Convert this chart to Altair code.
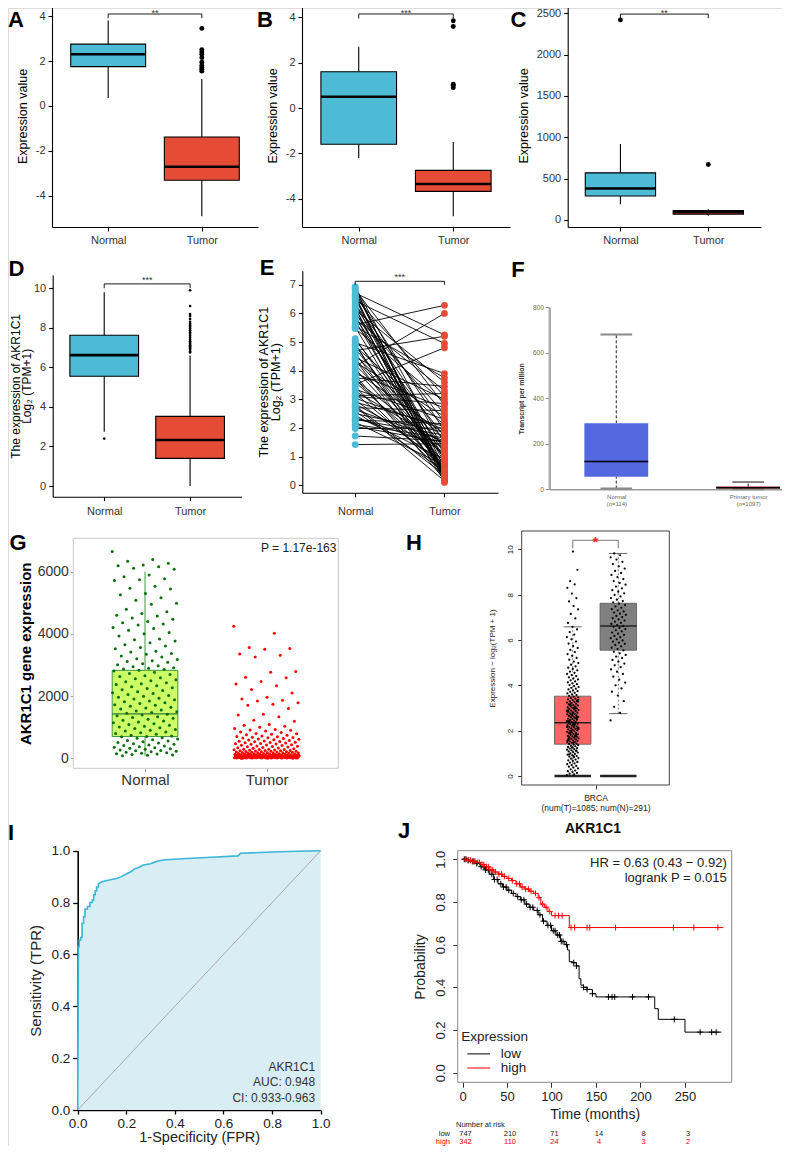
import altair as alt
import numpy as np
import pandas as pd

W, H = 774, 1138
FONT = "Liberation Sans"
BLUE, RED = "#4DBBD5", "#E64B35"

# ------------------------------------------------------------------ data
groups = ["Normal", "Tumor"]

# A
A_q1 = [1.75, -3.3]
A_med = [2.3, -2.7]
A_q3 = [2.75, -1.38]
A_lo = [0.35, -4.9]
A_hi = [3.8, 1.2]
A_out_normal = []
A_out_tumor = [1.55, 1.62, 1.7, 1.8, 1.95, 2.15, 2.3, 2.4, 2.5, 3.45]
A_bracket = [4.09, 3.9, 4.02]
A_sig = "**"

# B
B_q1 = [-1.6, -3.68]
B_med = [0.5, -3.35]
B_q3 = [1.6, -2.75]
B_lo = [-2.2, -4.78]
B_hi = [2.7, -1.5]
B_out_normal = []
B_out_tumor = [0.9, 1.0, 1.05, 3.6, 3.85]
B_bracket = [4.15, 3.95, 4.08]
B_sig = "***"

# C
C_q1 = [290, 70]
C_med = [380, 95]
C_q3 = [570, 115]
C_lo = [190, 50]
C_hi = [920, 130]
C_out_normal = [2420]
C_out_tumor = [670]
C_bracket = [2490, 2440, 2472]
C_sig = "**"

# D
D_q1 = [5.55, 1.4]
D_med = [6.62, 2.33]
D_q3 = [7.62, 3.52]
D_lo = [2.75, 0.0]
D_hi = [9.8, 6.6]
D_out_normal = [2.4]
D_out_tumor = [6.75, 6.8, 6.88, 6.95, 7.0, 7.06, 7.12, 7.18, 7.25, 7.32, 7.4, 7.5, 7.6, 7.7,
               7.78, 7.88, 7.97, 8.05, 8.12, 8.2, 8.3, 8.45, 8.6, 8.7, 9.1, 9.9]
D_bracket = [10.22, 10.0, 10.26]
D_sig = "***"

# E (paired samples)
E_normal = [6.93, 6.88, 6.82, 6.78, 6.71, 6.66, 6.62, 6.55, 6.49, 6.44, 6.37, 6.31, 6.26, 6.18,
            6.12, 6.05, 5.98, 5.92, 5.87, 5.8, 5.74, 5.66, 5.6, 5.52, 5.47, 5.12, 5.06, 4.98,
            4.92, 4.85, 4.77, 4.7, 4.61, 4.53, 4.46, 4.38, 4.3, 4.21, 4.15, 4.06, 3.98, 3.9,
            3.84, 3.75, 3.69, 3.6, 3.52, 3.43, 3.35, 3.28, 3.2, 3.13, 3.04, 2.97, 2.9, 2.84,
            2.78, 2.71, 2.64, 2.58, 2.5, 2.43, 2.36, 2.28, 2.2, 2.12, 2.05, 1.98, 1.72, 1.42,
            6.58, 6.2, 5.55, 4.9, 4.4, 3.7, 3.1, 2.75, 2.3, 6.9]
E_tumor = [1.2, 0.35, 2.8, 0.6, 5.25, 1.9, 0.25, 3.1, 0.9, 4.95, 0.45, 2.2, 1.5, 0.3, 3.6, 0.8,
           2.5, 0.2, 1.1, 3.3, 0.55, 1.7, 6.28, 0.4, 2.9, 0.7, 1.3, 3.9, 0.15, 2.1, 0.95, 5.2,
           0.5, 1.6, 3.0, 0.3, 2.4, 1.0, 6.0, 0.65, 1.8, 2.7, 0.2, 3.45, 1.25, 0.85, 4.8, 0.4,
           2.3, 1.45, 0.6, 3.2, 1.95, 0.75, 2.05, 1.15, 0.35, 2.6, 1.55, 0.5, 1.85, 0.9, 1.35,
           2.15, 0.7, 1.65, 1.5, 2.0, 1.55, 1.45, 0.1, 0.25, 3.75, 0.45, 1.05, 0.55, 2.85, 0.15,
           1.75, 0.3]
E_bracket = [7.12, 7.0, 7.16]
E_sig = "***"

# F (UALCAN)
F_groups = ["Normal", "Primary tumor"]
F_q1 = [55, 3]
F_med = [122, 7]
F_q3 = [290, 12]
F_lo = [3, 0]
F_hi = [680, 32]

# G
G_normal = [6650, 6390, 6340, 6270, 6215, 6190, 6160, 6110, 6075, 5895, 5840, 5770, 5745, 5715,
            5530, 5470, 5440, 5300, 5255, 5160, 5085, 4985, 4950, 4790, 4715, 4660, 4600, 4575,
            4510, 4470, 4395, 4360, 4320, 4285, 4205, 4170, 4115, 4045, 4005, 3935, 3840, 3815,
            3770, 3715, 3650, 3615, 3560, 3525, 3440, 3415, 3370, 3345, 3290, 3255, 3205, 3175,
            3140, 3110, 3085, 3040, 3005, 2975, 2945, 2915, 2895, 2870, 2860,
            2835, 2805, 2770, 2730, 2695, 2655, 2630, 2590, 2560, 2525, 2490, 2465, 2430, 2395,
            2370, 2335, 2300, 2270, 2245, 2205, 2180, 2140, 2110, 2085, 2050, 2020, 1995, 1960,
            1935, 1905, 1880, 1845, 1815, 1790, 1760, 1725, 1705, 1675, 1640, 1615, 1585, 1555,
            1525, 1500, 1475, 1445, 1420, 1395, 1365, 1340, 1310, 1285, 1255, 1225, 1200, 1170,
            1140, 1115, 1090, 1060, 1035, 1005, 985, 955, 925, 900, 875, 850, 820, 795, 770,
            745, 720, 705, 690, 665, 645, 620, 600, 575, 555, 530, 510, 490, 470, 450, 430, 415,
            395, 375, 355, 340, 320, 305, 290, 270, 255, 240, 225, 210, 195, 180, 165, 150, 135,
            120, 105, 95, 85]
G_tumor = [4250, 4020, 3560, 3530, 3510, 3350, 3310, 3260, 2790, 2770, 2610, 2590, 2470, 2390,
           2330, 2210, 2100, 1960, 1905, 1870, 1840, 1790, 1740, 1710, 1600, 1420, 1390, 1340,
           1220, 1190, 1090, 1060, 1030, 1000, 960, 930, 910, 900, 880, 850,
           830, 800, 790, 770, 760, 740, 720, 700, 690, 680, 670, 660, 650, 640, 620, 610, 600,
           590, 570, 560, 550, 540, 530, 520, 510, 500, 490, 480, 470, 460, 450, 440, 430, 420,
           410, 400, 390, 380, 370, 360, 350, 340, 330, 320, 310,
           295, 290, 285, 280, 275, 270, 262, 255, 250, 245, 240, 235, 230, 225, 220, 215, 210,
           205, 200, 196, 192, 188, 184, 180, 176, 172, 168, 164, 160, 156, 152, 148, 145, 142,
           139, 136, 133, 130, 127, 124, 121, 118, 115, 112, 110, 107, 104, 101, 99, 96, 94, 91,
           89, 86, 84, 82, 79, 77, 75, 73, 71, 69, 67, 65, 63, 61, 59, 57, 55, 54, 52, 50, 49,
           47, 46, 44, 43, 41, 40, 38, 37, 36, 34, 33, 32, 30, 29, 28, 27, 26, 25, 24, 23, 22,
           21, 20, 19, 18, 17, 16, 15, 14, 13, 12, 11, 10, 9, 8, 7, 6, 5, 4, 60, 80, 100, 120,
           140, 30, 50, 70, 90, 110, 35, 45, 55, 65, 75, 85, 95, 105, 25, 15, 5, 12, 18, 22, 28,
           33, 38, 42, 48, 53, 58, 62]
G_box = dict(q1=700, med=1430, q3=2830, lo=80, hi=6000)
G_p = "P = 1.17e-163"

# H (GEPIA)
H_groups = ["Tumor", "Normal"]
H_q1 = [1.4, 5.55]
H_med = [2.35, 6.62]
H_q3 = [3.52, 7.62]
H_lo = [0.0, 2.75]
H_hi = [6.58, 9.82]
H_tumor = [0.04, 0.07, 0.1, 0.13, 0.17, 0.21, 0.24, 0.29, 0.33, 0.37, 0.41, 0.44, 0.48, 0.52,
           0.55, 0.59, 0.62, 0.66, 0.69, 0.72, 0.76, 0.79, 0.82, 0.85, 0.88, 0.91, 0.94, 0.97,
           1.0, 1.03, 1.05, 1.08, 1.11, 1.13, 1.16, 1.18, 1.21, 1.23, 1.26, 1.28, 1.31, 1.33,
           1.36, 1.38, 1.41, 1.43, 1.46, 1.48, 1.5, 1.52, 1.55, 1.57, 1.59, 1.61, 1.64, 1.66,
           1.68, 1.7, 1.73, 1.75, 1.77, 1.79, 1.81, 1.84, 1.86, 1.88, 1.9, 1.93, 1.95, 1.97,
           1.99, 2.01, 2.04, 2.06, 2.08, 2.1, 2.13, 2.15, 2.17, 2.19, 2.21, 2.24, 2.26, 2.28,
           2.3, 2.33, 2.35, 2.37, 2.39, 2.42, 2.44, 2.46, 2.48, 2.51, 2.53, 2.55, 2.58, 2.6,
           2.62, 2.65, 2.67, 2.69, 2.72, 2.74, 2.76, 2.79, 2.81, 2.84, 2.86, 2.88, 2.91, 2.93,
           2.96, 2.98, 3.01, 3.03, 3.06, 3.08, 3.11, 3.13, 3.16, 3.19, 3.21, 3.24, 3.27, 3.29,
           3.32, 3.35, 3.38, 3.41, 3.44, 3.47, 3.5, 3.53, 3.57, 3.6, 3.64, 3.67, 3.71, 3.74,
           3.78, 3.82, 3.85, 3.89, 3.93, 3.97, 4.01, 4.05, 4.09, 4.13, 4.17, 4.22, 4.26, 4.31,
           4.35, 4.4, 4.45, 4.5, 4.55, 4.6, 4.66, 4.72, 4.78, 4.84, 4.91, 4.98, 5.05, 5.13,
           5.21, 5.3, 5.38, 5.47, 5.56, 5.65, 5.74, 5.84, 5.93, 6.03, 6.13, 6.24, 6.35, 6.47,
           6.58, 6.75, 6.95, 7.15, 7.35, 7.5, 7.7, 7.85, 8.05, 8.3, 8.45, 8.6, 9.1, 9.9,
           1.62, 1.78, 1.92, 2.07, 2.22, 2.36, 2.52, 2.66, 2.83, 2.97, 3.12, 3.28, 1.47, 1.69,
           1.83, 2.0, 2.16, 2.31, 2.45, 2.61, 2.77, 2.9, 3.05, 3.2, 3.36, 0.86, 0.95, 1.12,
           1.25, 1.55, 1.74, 1.89, 2.11, 2.27, 2.41, 2.57, 2.71, 2.87, 3.0, 3.15, 3.31]
H_normal = [2.45, 2.78, 3.05, 3.3, 3.55, 3.72, 3.86, 4.0, 4.12, 4.25, 4.38, 4.5, 4.6, 4.7, 4.8,
            4.88, 4.96, 5.04, 5.12, 5.2, 5.27, 5.34, 5.41, 5.48, 5.54, 5.6, 5.66, 5.72, 5.78,
            5.83, 5.88, 5.93, 5.98, 6.03, 6.08, 6.13, 6.18, 6.23, 6.28, 6.33, 6.38, 6.43, 6.48,
            6.53, 6.58, 6.62, 6.66, 6.71, 6.76, 6.81, 6.86, 6.91, 6.96, 7.01, 7.06, 7.11, 7.16,
            7.21, 7.26, 7.31, 7.36, 7.42, 7.48, 7.54, 7.6, 7.66, 7.72, 7.78, 7.85, 7.92, 7.99,
            8.06, 8.13, 8.2, 8.28, 8.36, 8.44, 8.52, 8.6, 8.69, 8.78, 8.87, 8.96, 9.05, 9.15,
            9.25, 9.35, 9.45, 9.55, 9.65, 9.74, 9.82]
H_bracket = [10.4, 10.05, 10.3]

# I (ROC)
I_fpr = [0, 0.003, 0.006, 0.006, 0.012, 0.012, 0.018, 0.018, 0.024, 0.024, 0.03, 0.03, 0.04,
         0.04, 0.05, 0.05, 0.06, 0.06, 0.066, 0.066, 0.072, 0.072, 0.078, 0.078, 0.085, 0.085,
         0.1, 0.12, 0.135, 0.16, 0.18, 0.2, 0.22, 0.235, 0.25, 0.27, 0.3, 0.33, 0.36, 0.45,
         0.55, 0.66, 0.67, 0.8, 0.9, 1.0]
I_tpr = [0, 0.63, 0.63, 0.655, 0.655, 0.665, 0.665, 0.72, 0.72, 0.745, 0.745, 0.775, 0.775,
         0.785, 0.785, 0.80, 0.80, 0.81, 0.81, 0.83, 0.83, 0.845, 0.845, 0.86, 0.86, 0.872,
         0.88, 0.885, 0.888, 0.893, 0.9, 0.91, 0.92, 0.93, 0.935, 0.945, 0.95, 0.96, 0.965,
         0.97, 0.975, 0.98, 0.99, 0.995, 0.998, 1.0]
I_text = ["AKR1C1", "AUC: 0.948", "CI: 0.933-0.963"]

# J (Kaplan-Meier)
J_low_t = [0, 5, 10, 15, 20, 25, 30, 35, 40, 45, 50, 55, 60, 65, 70, 75, 80, 85, 90, 95, 100,
           105, 110, 115, 118, 120, 124, 128, 131, 133, 136, 140, 146, 150, 216, 220, 250, 291]
J_low_s = [1.0, 0.995, 0.99, 0.98, 0.965, 0.95, 0.93, 0.905, 0.885, 0.87, 0.855, 0.84, 0.825,
           0.81, 0.79, 0.775, 0.76, 0.74, 0.71, 0.69, 0.665, 0.645, 0.615, 0.6, 0.575, 0.52,
           0.515, 0.5, 0.44, 0.41, 0.4, 0.39, 0.37, 0.355, 0.30, 0.25, 0.19, 0.19]
J_high_t = [0, 5, 10, 15, 20, 25, 30, 35, 40, 45, 50, 55, 60, 65, 70, 75, 80, 85, 88, 92, 96,
            100, 120, 293]
J_high_s = [1.0, 0.995, 0.99, 0.985, 0.975, 0.965, 0.95, 0.94, 0.93, 0.92, 0.91, 0.9, 0.885,
            0.87, 0.86, 0.85, 0.84, 0.82, 0.79, 0.775, 0.755, 0.736, 0.68, 0.68]
J_low_cens = [2, 4, 7, 11, 13, 16, 21, 24, 26, 29, 33, 36, 39, 43, 46, 49, 52, 57, 62, 66, 69,
              72, 76, 79, 84, 87, 91, 96, 99, 102, 104, 107, 109, 111, 113, 117, 125, 128, 136,
              140, 146, 164, 168, 171, 191, 209, 238, 267, 280, 285]
J_high_cens = [3, 6, 9, 12, 14, 17, 19, 22, 24, 27, 29, 32, 34, 37, 41, 44, 47, 52, 56, 61, 64,
               67, 71, 74, 77, 82, 86, 90, 94, 98, 104, 108, 112, 122, 126, 140, 143, 172, 237,
               260, 287]
J_hr = ["HR = 0.63 (0.43 \u2212 0.92)", "logrank P = 0.015"]
J_risk_t = [0, 50, 100, 150, 200, 250]
J_risk_low = [747, 210, 71, 14, 8, 3]
J_risk_high = [342, 110, 24, 4, 3, 2]

letters = ["A", "B", "C", "D", "E", "F", "G", "H", "I", "J"]


# ------------------------------------------------------------------ helpers
def sc(domain, a, b):
    return alt.Scale(domain=list(domain), range=[a - 8, b - 8], nice=False, zero=False)


def ax(orient, pos, **kw):
    d = dict(orient=orient, grid=False, labelFlush=False, labelOverlap=False,
             labelFont=FONT, titleFont=FONT, labelColor="#333333", titleColor="#000000",
             domainColor="#000000", tickColor="#000000", titleFontWeight="normal", title=None)
    d["offset"] = (pos - 8 - H) if orient == "bottom" else -(pos - 8)
    d.update(kw)
    return alt.Axis(**d)


NUM = "'' + datum.value"
NT = "datum.value == 1 ? 'Normal' : 'Tumor'"
POS = "datum.g == 'Normal' ? 1 : 2"


def enc(xs, ys, xa, ya):
    return (lambda f: alt.X(f, scale=xs, axis=xa)), (lambda f: alt.Y(f, scale=ys, axis=ya))


def gg_panel(xs, ys, xa, ya, q1, med, q3, lo, hi, outN, outT, bk, sig, osize):
    X, Y = enc(xs, ys, xa, ya)
    st = pd.DataFrame({"g": groups, "q1": q1, "med": med, "q3": q3, "lo": lo, "hi": hi,
                       "fill": [BLUE, RED]})
    base = alt.Chart(st).transform_calculate(pos=POS).transform_calculate(
        x0="datum.pos - 0.4", x1="datum.pos + 0.4")
    wh = base.mark_rule(color="black", strokeWidth=1.1).encode(x=X("pos:Q"), y=Y("lo:Q"), y2="hi:Q")
    bx = base.mark_rect(stroke="black", strokeWidth=1.1).encode(
        x=X("x0:Q"), x2="x1:Q", y=Y("q1:Q"), y2="q3:Q", fill=alt.Fill("fill:N", scale=None))
    md = base.mark_rule(color="black", strokeWidth=2.6).encode(x=X("x0:Q"), x2="x1:Q", y=Y("med:Q"))
    od = pd.DataFrame({"g": ["Normal"] * len(outN) + ["Tumor"] * len(outT), "v": list(outN) + list(outT)})
    ol = alt.Chart(od).transform_calculate(pos=POS).mark_circle(
        size=osize, color="black", opacity=1).encode(x=X("pos:Q"), y=Y("v:Q"))
    b, t, s = bk
    brd = pd.DataFrame({"x": [1, 1, 2], "x2": [2, 1, 2], "y": [b, b, b], "y2": [b, t, t]})
    br = alt.Chart(brd).mark_rule(color="black", strokeWidth=0.9).encode(
        x=X("x:Q"), x2="x2:Q", y=Y("y:Q"), y2="y2:Q")
    tx = alt.Chart(pd.DataFrame({"x": [1.5], "y": [s], "t": [sig]})).mark_text(
        fontSize=9, font=FONT, color="#333333", baseline="alphabetic").encode(
        x=X("x:Q"), y=Y("y:Q"), text="t:N")
    return alt.layer(wh, bx, md, ol, br, tx)


# ------------------------------------------------------------------ A, B, C
def top_axes(px0, yvals, title="Expression value"):
    xa = ax("bottom", 227, values=[1, 2], labelExpr=NT, labelFontSize=11, tickSize=4,
            labelPadding=3, domainWidth=1.1, tickWidth=1.1)
    ya = ax("left", px0, values=yvals, labelExpr=NUM, labelFontSize=11, tickSize=4,
            labelPadding=3, domainWidth=1.1, tickWidth=1.1, title=title, titleFontSize=12.5,
            titlePadding=6)
    return xa, ya


xa, ya = top_axes(52, [-4, -2, 0, 2, 4])
pA = gg_panel(sc([0.4, 2.6], 52, 258), sc([-5.38, 4.49], 227, 5), xa, ya,
              A_q1, A_med, A_q3, A_lo, A_hi, A_out_normal, A_out_tumor, A_bracket, A_sig, 24)
xa, ya = top_axes(302, [-4, -2, 0, 2, 4])
pB = gg_panel(sc([0.4, 2.6], 302, 510), sc([-5.25, 4.59], 227, 4), xa, ya,
              B_q1, B_med, B_q3, B_lo, B_hi, B_out_normal, B_out_tumor, B_bracket, B_sig, 24)
xa, ya = top_axes(567.7, [0, 500, 1000, 1500, 2000, 2500])
pC = gg_panel(sc([0.4, 2.6], 567.7, 761), sc([-85, 2612], 227, 4), xa, ya,
              C_q1, C_med, C_q3, C_lo, C_hi, C_out_normal, C_out_tumor, C_bracket, C_sig, 24)

# ------------------------------------------------------------------ D
TPM_TITLE = ["The expression of AKR1C1", "Log\u2082 (TPM+1)"]
xa = ax("bottom", 496.7, values=[1, 2], labelExpr=NT, labelFontSize=11, tickSize=4,
        labelPadding=5, domainWidth=1.1, tickWidth=1.1)
ya = ax("left", 52.7, values=[0, 2, 4, 6, 8, 10], labelExpr=NUM, labelFontSize=11, tickSize=4,
        labelPadding=3, domainWidth=1.1, tickWidth=1.1, title=TPM_TITLE, titleFontSize=12,
        titlePadding=0, titleLineHeight=11)
pD = gg_panel(sc([0.4, 2.6], 52.7, 241.6), sc([-0.54, 10.67], 496.7, 275), xa, ya,
              D_q1, D_med, D_q3, D_lo, D_hi, D_out_normal, D_out_tumor, D_bracket, D_sig, 7)

# ------------------------------------------------------------------ E
xs_E, ys_E = sc([0.407, 2.6], 302.3, 498), sc([-0.26, 7.49], 492.7, 270.7)
xa = ax("bottom", 492.7, values=[1, 2], labelExpr=NT, labelFontSize=11, tickSize=4,
        labelPadding=9, domainWidth=1.1, tickWidth=1.1)
ya = ax("left", 302.3, values=[0, 1, 2, 3, 4, 5, 6, 7], labelExpr=NUM, labelFontSize=11,
        tickSize=4, labelPadding=3, domainWidth=1.1, tickWidth=1.1, title=TPM_TITLE,
        titleFontSize=12.5, titlePadding=7, titleLineHeight=12)
X, Y = enc(xs_E, ys_E, xa, ya)
n = len(E_normal)
E_long = pd.DataFrame({"id": list(range(n)) * 2, "g": ["Normal"] * n + ["Tumor"] * n,
                       "v": E_normal + E_tumor})
eb = alt.Chart(E_long).transform_calculate(
    pos=POS, fill=f"datum.g == 'Normal' ? '{BLUE}' : '{RED}'")
eL = eb.mark_line(color="black", strokeWidth=0.9).encode(x=X("pos:Q"), y=Y("v:Q"), detail="id:N")
eP = eb.mark_circle(size=46, opacity=1).encode(x=X("pos:Q"), y=Y("v:Q"),
                                               fill=alt.Fill("fill:N", scale=None))
b, t, s = E_bracket
eBr = alt.Chart(pd.DataFrame({"x": [1, 1, 2], "x2": [2, 1, 2], "y": [b, b, b], "y2": [b, t, t]})
                ).mark_rule(color="black", strokeWidth=0.9).encode(x=X("x:Q"), x2="x2:Q",
                                                                    y=Y("y:Q"), y2="y2:Q")
eTx = alt.Chart(pd.DataFrame({"x": [1.5], "y": [s], "t": [E_sig]})).mark_text(
    fontSize=9, font=FONT, color="#333333", baseline="alphabetic").encode(
    x=X("x:Q"), y=Y("y:Q"), text="t:N")
pE = alt.layer(eL, eP, eBr, eTx)

# ------------------------------------------------------------------ F
xa = ax("bottom", 489.3, values=[1, 2],
        labelExpr="datum.value == 1 ? ['Normal', '(n=114)'] : ['Primary tumor', '(n=1097)']",
        ticks=False, labelFontSize=6, labelColor="#666666", domainColor="#999999",
        domainWidth=1.5, labelPadding=4, labelLineHeight=7)
ya = ax("left", 549.3, values=[0, 200, 400, 600, 800], labelExpr=NUM, labelFontSize=6.5,
        labelColor="#666666", tickColor="#888888", tickSize=4, domainColor="#AAAAAA",
        domainWidth=2.5, labelPadding=2, title="Transcript per million", titleFontSize=7,
        titleFontWeight="bold", titlePadding=8, titleColor="#333333")
X, Y = enc(sc([0.492, 2.31], 549.3, 789), sc([0, 800], 489.3, 307.3), xa, ya)
F_df = pd.DataFrame({"g": F_groups, "q1": F_q1, "med": F_med, "q3": F_q3, "lo": F_lo,
                     "hi": F_hi, "fill": ["#5468E0", "#9E1B1B"]})
fb = alt.Chart(F_df).transform_calculate(pos=POS).transform_calculate(
    x0="datum.pos - 0.242", x1="datum.pos + 0.242", c0="datum.pos - 0.12", c1="datum.pos + 0.12")
fW1 = fb.mark_rule(color="#222222", strokeWidth=1, strokeDash=[3, 2]).encode(
    x=X("pos:Q"), y=Y("q3:Q"), y2="hi:Q")
fW2 = fb.mark_rule(color="#222222", strokeWidth=1, strokeDash=[3, 2]).encode(
    x=X("pos:Q"), y=Y("lo:Q"), y2="q1:Q")
fC1 = fb.mark_rule(color="#888888", strokeWidth=2).encode(x=X("c0:Q"), x2="c1:Q", y=Y("hi:Q"))
fC2 = fb.mark_rule(color="#888888", strokeWidth=2).encode(x=X("c0:Q"), x2="c1:Q", y=Y("lo:Q"))
fB = fb.mark_rect().encode(x=X("x0:Q"), x2="x1:Q", y=Y("q1:Q"), y2="q3:Q",
                           fill=alt.Fill("fill:N", scale=None))
fM = fb.mark_rule(color="black", strokeWidth=1.5).encode(x=X("x0:Q"), x2="x1:Q", y=Y("med:Q"))
pF = alt.layer(fW1, fW2, fC1, fC2, fB, fM)

# ------------------------------------------------------------------ G
G_xd, G_yd = [0.41, 2.59], [-321, 7074]
xa = ax("bottom", 768.3, values=[1, 2], labelExpr=NT, labelFontSize=15, labelColor="#333333",
        tickColor="#999999", tickSize=3, domain=False, labelPadding=1)
ya = ax("left", 73.3, values=[0, 2000, 4000, 6000], labelExpr=NUM, labelFontSize=14,
        labelColor="#333333", tickColor="#999999", tickSize=3, domain=False, labelPadding=2,
        title="AKR1C1 gene expression", titleFontSize=15, titleFontWeight="bold", titlePadding=4)
X, Y = enc(sc(G_xd, 73.3, 338.3), sc(G_yd, 768.3, 538.3), xa, ya)
gBorder = alt.Chart(pd.DataFrame({"x": [G_xd[0]], "x2": [G_xd[1]], "y": [G_yd[0]], "y2": [G_yd[1]]})
                    ).mark_rect(fill="white", stroke="#C8C8C8", strokeWidth=1).encode(
    x=X("x:Q"), x2="x2:Q", y=Y("y:Q"), y2="y2:Q")
gst = alt.Chart(pd.DataFrame({"g": ["Normal"], **{k: [v] for k, v in G_box.items()}})
                ).transform_calculate(pos=POS).transform_calculate(
    x0="datum.pos - 0.27", x1="datum.pos + 0.27")
gW = gst.mark_rule(color="#3C9A3C", strokeWidth=1).encode(x=X("pos:Q"), y=Y("lo:Q"), y2="hi:Q")
gB = gst.mark_rect(fill="#CCFF66", stroke="#3C9A3C", strokeWidth=1).encode(
    x=X("x0:Q"), x2="x1:Q", y=Y("q1:Q"), y2="q3:Q")
gM = gst.mark_rule(color="#2E7D2E", strokeWidth=1.3).encode(x=X("x0:Q"), x2="x1:Q", y=Y("med:Q"))
G_pts = pd.DataFrame({"g": ["Normal"] * len(G_normal) + ["Tumor"] * len(G_tumor),
                      "v": G_normal + G_tumor,
                      "i": list(range(len(G_normal))) + list(range(len(G_tumor)))})
gP = alt.Chart(G_pts).transform_calculate(pos=POS).transform_calculate(
    jx="datum.pos + ((datum.i * 0.618034) % 1 - 0.5) * 0.54",
    col="datum.g == 'Normal' ? '#0A6E0A' : '#FF0000'").mark_circle(size=9, opacity=1).encode(
    x=X("jx:Q"), y=Y("v:Q"), fill=alt.Fill("col:N", scale=None))
gT = alt.Chart(pd.DataFrame({"x": [2.575], "y": [6760], "t": [G_p]})).mark_text(
    fontSize=12, font=FONT, align="right", color="#222222").encode(x=X("x:Q"), y=Y("y:Q"), text="t:N")
pG = alt.layer(gBorder, gW, gB, gM, gP, gT)

# ------------------------------------------------------------------ H
H_xd, H_yd = [-0.12, 3.12], [-0.4, 10.81]
HPOS = "datum.g == 'Tumor' ? 1 : 2"
xa = ax("bottom", 785, values=[1.5], labelExpr="['BRCA', '(num(T)=1085; num(N)=291)']",
        labelFontSize=8.5, labelColor="#222222", tickSize=4, tickColor="#333333", domain=False,
        labelPadding=4, labelLineHeight=10)
ya = ax("left", 521.7, values=[0, 2, 4, 6, 8, 10], labelExpr=NUM, labelAngle=270,
        labelAlign="center", labelBaseline="bottom", labelFontSize=8, labelColor="#222222",
        tickSize=4, tickColor="#333333", domain=False, labelPadding=3,
        title="Expression \u2212 log\u2082(TPM + 1)", titleFontSize=8, titlePadding=10,
        titleColor="#222222")
X, Y = enc(sc(H_xd, 521.7, 669.3), sc(H_yd, 785, 531), xa, ya)
hBorder = alt.Chart(pd.DataFrame({"x": [H_xd[0]], "x2": [H_xd[1]], "y": [H_yd[0]], "y2": [H_yd[1]]})
                    ).mark_rect(fill="white", stroke="#444444", strokeWidth=1).encode(
    x=X("x:Q"), x2="x2:Q", y=Y("y:Q"), y2="y2:Q")
H_df = pd.DataFrame({"g": H_groups, "q1": H_q1, "med": H_med, "q3": H_q3, "lo": H_lo, "hi": H_hi,
                     "fill": ["#FF6464", "#808080"]})
hb = alt.Chart(H_df).transform_calculate(pos=HPOS).transform_calculate(
    x0="datum.pos - 0.4", x1="datum.pos + 0.4", c0="datum.pos - 0.2", c1="datum.pos + 0.2",
    z="0")
hW1 = hb.mark_rule(color="#555555", strokeWidth=0.8, strokeDash=[2, 2]).encode(
    x=X("pos:Q"), y=Y("q3:Q"), y2="hi:Q")
hW2 = hb.mark_rule(color="#555555", strokeWidth=0.8, strokeDash=[2, 2]).encode(
    x=X("pos:Q"), y=Y("lo:Q"), y2="q1:Q")
hC1 = hb.mark_rule(color="#666666", strokeWidth=1).encode(x=X("c0:Q"), x2="c1:Q", y=Y("hi:Q"))
hC2 = hb.mark_rule(color="#666666", strokeWidth=1).encode(x=X("c0:Q"), x2="c1:Q", y=Y("lo:Q"))
hB = hb.mark_rect(stroke="#555555", strokeWidth=0.8).encode(
    x=X("x0:Q"), x2="x1:Q", y=Y("q1:Q"), y2="q3:Q", fill=alt.Fill("fill:N", scale=None))
hM = hb.mark_rule(color="#222222", strokeWidth=1.5).encode(x=X("x0:Q"), x2="x1:Q", y=Y("med:Q"))
hZ = hb.mark_rule(color="#222222", strokeWidth=2.5).encode(x=X("x0:Q"), x2="x1:Q", y=Y("z:Q"))
H_pts = pd.DataFrame({"g": ["Tumor"] * len(H_tumor) + ["Normal"] * len(H_normal),
                      "v": H_tumor + H_normal,
                      "i": list(range(len(H_tumor))) + list(range(len(H_normal)))})
hP = alt.Chart(H_pts).transform_calculate(pos=HPOS).transform_calculate(
    jx="datum.pos + ((datum.i * 0.618034) % 1 - 0.5) * (datum.g == 'Tumor' ? 0.26 : 0.34)"
).mark_circle(size=5, opacity=1, color="black").encode(x=X("jx:Q"), y=Y("v:Q"))
b, t, s = H_bracket
hBr = alt.Chart(pd.DataFrame({"x": [1, 1, 2], "x2": [2, 1, 2], "y": [b, b, b], "y2": [b, t, t]})
                ).mark_rule(color="#666666", strokeWidth=0.9).encode(x=X("x:Q"), x2="x2:Q",
                                                                      y=Y("y:Q"), y2="y2:Q")
hSt = alt.Chart(pd.DataFrame({"x": [1.5], "y": [s], "t": ["*"]})).mark_text(
    fontSize=14, font=FONT, color="#FF2020", fontWeight="bold").encode(
    x=X("x:Q"), y=Y("y:Q"), text="t:N")
pH = alt.layer(hBorder, hW1, hW2, hC1, hC2, hB, hM, hZ, hP, hBr, hSt)

# ------------------------------------------------------------------ I
ticks01 = [0, 0.2, 0.4, 0.6, 0.8, 1.0]
xs_I, ys_I = sc([0, 1], 77.7, 320.7), sc([0, 1], 1110, 850.7)
xa = ax("bottom", 1110, values=ticks01, format=".1f", labelFontSize=13.5, labelColor="#222222",
        tickSize=4, domainWidth=1.6, tickWidth=1.3, labelPadding=2,
        title="1-Specificity (FPR)", titleFontSize=14.5, titlePadding=1, titleColor="#222222")
ya = ax("left", 77.7, values=ticks01, format=".1f", labelFontSize=13.5, labelColor="#222222",
        tickSize=5, domainWidth=1.6, tickWidth=1.3, labelPadding=3,
        title="Sensitivity (TPR)", titleFontSize=15, titlePadding=7, titleColor="#222222")
X, Y = enc(xs_I, ys_I, xa, ya)
roc = pd.DataFrame({"fpr": I_fpr, "tpr": I_tpr, "i": list(range(len(I_fpr)))})
iA = alt.Chart(roc).mark_area(color="#D9EEF4", opacity=1).encode(
    x=alt.X("fpr:Q", scale=xs_I, axis=xa), y=alt.Y("tpr:Q", scale=ys_I, axis=ya, stack=None))
iD = alt.Chart(pd.DataFrame({"x": [0], "y": [0], "x2": [1], "y2": [1]})).mark_rule(
    color="#A8A8A8", strokeWidth=1).encode(x=X("x:Q"), y=Y("y:Q"), x2="x2:Q", y2="y2:Q")
iL = alt.Chart(roc).mark_line(color="#3CB5D6", strokeWidth=1.6).encode(
    x=X("fpr:Q"), y=Y("tpr:Q"), order="i:Q")
iT = alt.Chart(pd.DataFrame({"t": I_text, "x": [0.977] * 3, "y": [0.166, 0.108, 0.046]})
               ).mark_text(fontSize=12, font=FONT, align="right", color="#333333").encode(
    x=X("x:Q"), y=Y("y:Q"), text="t:N")
pI = alt.layer(iA, iD, iL, iT)

# ------------------------------------------------------------------ J
J_xd, J_yd = [-5.4, 302.5], [-0.045, 1.04]
xa = ax("bottom", 1082.3, values=J_risk_t, labelExpr=NUM, labelFontSize=13, labelColor="#222222",
        tickSize=5, tickColor="#333333", domain=False, labelPadding=3,
        title="Time (months)", titleFontSize=14, titlePadding=4, titleColor="#222222")
ya = ax("left", 457.7, values=ticks01, format=".1f", labelAngle=270, labelAlign="center",
        labelBaseline="bottom", labelFontSize=13, labelColor="#222222", tickSize=5,
        tickColor="#333333", domain=False, labelPadding=5,
        title="Probability", titleFontSize=14, titlePadding=7, titleColor="#222222")
X, Y = enc(sc(J_xd, 457.7, 731.7), sc(J_yd, 1082.3, 850.7), xa, ya)
jBorder = alt.Chart(pd.DataFrame({"x": [J_xd[0]], "x2": [J_xd[1]], "y": [J_yd[0]], "y2": [J_yd[1]]})
                    ).mark_rect(fill="white", stroke="#888888", strokeWidth=1).encode(
    x=X("x:Q"), x2="x2:Q", y=Y("y:Q"), y2="y2:Q")


def step_at(ts, ss, times):
    ts, ss = np.array(ts), np.array(ss)
    return [float(ss[np.searchsorted(ts, tt, side="right") - 1]) for tt in times]


jLow = alt.Chart(pd.DataFrame({"t": J_low_t, "s": J_low_s})).mark_line(
    interpolate="step-after", color="black", strokeWidth=1).encode(x=X("t:Q"), y=Y("s:Q"))
jHigh = alt.Chart(pd.DataFrame({"t": J_high_t, "s": J_high_s})).mark_line(
    interpolate="step-after", color="#FF0000", strokeWidth=1).encode(x=X("t:Q"), y=Y("s:Q"))
PLUS = "M-1,0H1M0,-1V1"
jCl = alt.Chart(pd.DataFrame({"t": J_low_cens, "s": step_at(J_low_t, J_low_s, J_low_cens)})
                ).mark_point(shape=PLUS, filled=False, size=36, strokeWidth=1, color="black",
                             opacity=1).encode(x=X("t:Q"), y=Y("s:Q"))
jCh = alt.Chart(pd.DataFrame({"t": J_high_cens, "s": step_at(J_high_t, J_high_s, J_high_cens)})
                ).mark_point(shape=PLUS, filled=False, size=36, strokeWidth=1, color="#FF0000",
                             opacity=1).encode(x=X("t:Q"), y=Y("s:Q"))
jHR = alt.Chart(pd.DataFrame({"t": J_hr, "x": [296.9, 296.9], "y": [0.982, 0.914]})).mark_text(
    fontSize=13, font=FONT, align="right", color="#222222").encode(x=X("x:Q"), y=Y("y:Q"), text="t:N")
jTitle = alt.Chart(pd.DataFrame({"t": ["AKR1C1"], "x": [146.6], "y": [1.142]})).mark_text(
    fontSize=14, font=FONT, fontWeight="bold", color="#111111").encode(
    x=X("x:Q"), y=Y("y:Q"), text="t:N")
jLegT = alt.Chart(pd.DataFrame({"t": ["Expression"], "x": [-1.5], "y": [0.166]})).mark_text(
    fontSize=13.5, font=FONT, align="left", color="#222222").encode(x=X("x:Q"), y=Y("y:Q"), text="t:N")
legd = pd.DataFrame({"t": ["low", "high"], "x": [5.4, 5.4], "x2": [30.9, 30.9], "y": [0.088, 0.022],
                     "lx": [42.9, 42.9], "c": ["#000000", "#FF0000"]})
jLegL = alt.Chart(legd).mark_rule(strokeWidth=1).encode(
    x=X("x:Q"), x2="x2:Q", y=Y("y:Q"), color=alt.Color("c:N", scale=None))
jLegX = alt.Chart(legd).mark_text(fontSize=13.5, font=FONT, align="left", color="#222222").encode(
    x=X("lx:Q"), y=Y("y:Q"), text="t:N")
risk = pd.DataFrame({"t": J_risk_t * 2, "n": [str(v) for v in J_risk_low + J_risk_high],
                     "row": ["low"] * 6 + ["high"] * 6})
jRisk = alt.Chart(risk).transform_calculate(
    y="datum.row == 'low' ? -0.285 : -0.325",
    c="datum.row == 'low' ? '#222222' : '#FF0000'").mark_text(
    fontSize=7.5, font=FONT, dx=3).encode(x=X("t:Q"), y=Y("y:Q"), text="n:N",
                                          color=alt.Color("c:N", scale=None))
rowlab = pd.DataFrame({"t": ["Number at risk", "low", "high"], "x": [-7.3, -14, -14],
                       "y": [-0.243, -0.285, -0.325],
                       "c": ["#222222", "#222222", "#FF0000"]})
jRl1 = alt.Chart(rowlab.iloc[:1]).mark_text(fontSize=7.5, font=FONT, align="left").encode(
    x=X("x:Q"), y=Y("y:Q"), text="t:N", color=alt.Color("c:N", scale=None))
jRl2 = alt.Chart(rowlab.iloc[1:]).mark_text(fontSize=7.5, font=FONT, align="right").encode(
    x=X("x:Q"), y=Y("y:Q"), text="t:N", color=alt.Color("c:N", scale=None))
pJ = alt.layer(jBorder, jLow, jHigh, jCl, jCh, jHR, jTitle, jLegT, jLegL, jLegX, jRisk, jRl1, jRl2)

# ------------------------------------------------------------------ panel letters
lay = pd.DataFrame({"t": letters,
                    "x": [16, 265, 518.5, 16.5, 267, 518, 18, 414, 11, 404],
                    "y": [20, 20, 20, 269, 268, 270, 543, 543, 833, 831]})
pL = alt.Chart(lay).mark_text(fontSize=22, font=FONT, fontWeight="bold", color="black",
                              baseline="middle").encode(
    x=alt.X("x:Q", scale=sc([0, 790], 0, 790), axis=None),
    y=alt.Y("y:Q", scale=sc([0, 1154], 0, 1154), axis=None),
    text="t:N")

chart = alt.layer(pA, pB, pC, pD, pE, pF, pG, pH, pI, pJ, pL).resolve_scale(
    x="independent", y="independent").resolve_axis(x="independent", y="independent").properties(
    width=W, height=H, autosize=alt.AutoSizeParams(type="none"), padding=0
).configure_view(stroke=None).configure(font=FONT, background="white")

chart.save("out.html", embed_options={"renderer": "svg", "actions": False})
